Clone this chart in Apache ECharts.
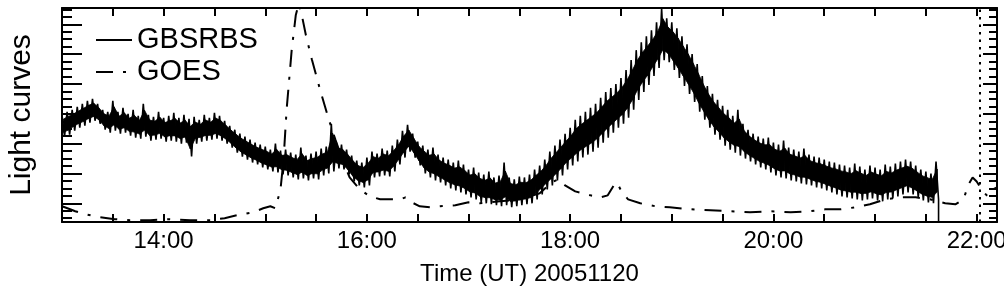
<!DOCTYPE html>
<html><head><meta charset="utf-8">
<script src="https://cdn.jsdelivr.net/npm/echarts@6/dist/echarts.min.js"></script>
<style>html,body{margin:0;padding:0;background:#fff}#c{width:1004px;height:296px}</style>
</head><body><div id="c"></div>
<script>
// GBSRBS: sampled every 0.05 h from 13:00, upper and lower excursions of the noisy trace
const gbsStart = 13.0;
const gbsStep = 0.05;
const gbsHigh = [
89,92,94,97,100,103,105,100,94,92,
103,92,96,90,94,88,100,89,87,92,
86,88,91,86,89,85,87,84,89,86,
91,88,83,78,74,70,67,64,61,59,
57,54,60,53,54,51,49,56,48,50,
52,55,57,80,61,59,54,48,43,41,
46,52,50,55,53,58,64,73,79,70,
62,58,54,56,49,46,44,41,43,39,
34,36,31,29,32,26,28,41,26,24,
27,26,29,34,38,44,52,58,64,70,
76,84,88,92,96,100,106,112,116,120,
126,134,144,154,162,168,174,182,196,186,
182,176,168,160,150,140,128,118,110,104,
98,94,88,94,80,74,70,67,65,66,
61,59,63,56,54,52,55,49,47,46,
44,42,41,39,38,36,40,37,34,38,
36,34,39,37,40,42,44,42,38,34,
32,30,42];
const gbsLow = [
67,69,73,76,78,81,83,80,74,71,
73,70,71,68,66,65,67,63,64,65,
62,63,62,60,61,47,60,62,63,64,
65,63,60,56,51,47,44,41,39,36,
34,32,31,29,28,26,24,25,23,25,
24,28,30,32,35,34,29,22,18,16,
18,26,27,28,27,32,39,46,52,46,
38,30,26,23,21,18,15,13,11,9,
6,4,1,0,-1,-2,-3,-2,-4,-3,
-2,-1,0,4,9,14,18,23,28,34,
38,42,46,49,52,56,61,66,71,76,
80,86,94,104,112,119,128,136,144,142,
134,126,118,110,102,92,84,76,69,64,
58,54,51,48,45,42,39,36,34,31,
28,26,25,23,22,20,19,18,16,15,
13,11,9,7,6,5,4,3,4,5,
3,2,4,5,7,9,11,9,6,3,
1,0,4];
const gbsDropTime = 21.625;
const gbsDropValue = -30;

// GOES (hours UT, relative flux)
const goesTimes = [13.00,13.08,13.13,13.23,13.37,13.52,13.67,13.87,14.06,14.26,14.46,14.60,14.72,14.88,14.98,15.05,15.10,15.15,15.18,15.21,15.26,15.30,15.33,15.36,15.40,15.46,15.54,15.62,15.69,15.76,15.83,15.93,16.03,16.13,16.23,16.33,16.38,16.44,16.52,16.62,16.72,16.87,17.00,17.11,17.31,17.51,17.70,17.82,17.88,17.95,18.05,18.20,18.30,18.37,18.43,18.46,18.51,18.57,18.69,18.84,18.98,19.18,19.38,19.57,19.77,19.97,20.17,20.36,20.51,20.66,20.81,20.95,21.10,21.25,21.40,21.54,21.69,21.79,21.87,21.92,21.96,22.00,22.06,22.11,22.16,22.20];
const goesValues = [-3,-6,-8,-11,-14,-16,-17,-17,-16,-17,-17,-15,-12,-9,-5,-3,-5,14,44,94,154,189,201,189,169,144,114,86,64,44,26,14,7,4,4,4,6,1,-3,-4,-3,-2,1,0,2,4,10,21,24,18,12,8,6,8,18,21,11,4,0,-3,-4,-6,-7,-8,-9,-8,-9,-8,-6,-6,-4,-1,4,6,6,4,0,-1,4,19,26,22,12,7,14,16];

const markerTime = 22.03;
const xMin = 13.0, xMax = 22.2, xTick = 0.5;
const yMin = -18.8, yMax = 196.4;
const seriesNames = ['GBSRBS', 'GOES'];
const xTitle = 'Time (UT) 20051120';
const yTitle = 'Light curves';

// zig-zag trace through the upper/lower excursions
const gbsData = [];
for (let i = 0; i < gbsHigh.length; i++) {
  gbsData.push([gbsStart + i * gbsStep, gbsHigh[i]]);
  gbsData.push([gbsStart + (i + 0.5) * gbsStep, gbsLow[i]]);
}
gbsData.push([gbsDropTime, gbsDropValue]);
// dense core of the noisy band (inner part of each excursion range): [time, top, bottom]
const coreData = gbsHigh.map((h, i) => {
  const w = h - gbsLow[i];
  return [gbsStart + (i + 0.25) * gbsStep, h - 0.2 * w, gbsLow[i] + 0.2 * w];
});
const goesData = goesTimes.map((t, i) => [t, goesValues[i]]);

const sans = "'Liberation Sans', Arial, Helvetica, sans-serif";
const axisCommon = {
  axisLine: { show: true, onZero: false, lineStyle: { color: '#000', width: 2 } },
  splitLine: { show: false }
};
function renderCore(params, api) {
  const i = params.dataIndexInside;
  if (i >= params.dataInsideLength - 1) return null;
  const p1 = api.coord([api.value(0, i), api.value(1, i)]);
  const p2 = api.coord([api.value(0, i + 1), api.value(1, i + 1)]);
  const p3 = api.coord([api.value(0, i + 1), api.value(2, i + 1)]);
  const p4 = api.coord([api.value(0, i), api.value(2, i)]);
  return {
    type: 'polygon',
    shape: { points: [p1, p2, p3, p4] },
    style: { fill: '#000', stroke: '#000', lineWidth: 0.8 }
  };
}
const chart = echarts.init(document.getElementById('c'), null, { renderer: 'canvas' });
chart.setOption({
  animation: false,
  backgroundColor: '#fff',
  grid: { left: 62, right: 7, top: 8, bottom: 74, containLabel: false, outerBoundsMode: 'none' },
  legend: {
    orient: 'vertical', left: 90, top: 20,
    itemWidth: 36, itemHeight: 14, itemGap: 2,
    data: seriesNames,
    itemStyle: { color: 'rgba(0,0,0,0)', borderWidth: 0, opacity: 0 },
    textStyle: { fontFamily: sans, fontSize: 29, color: '#000', lineHeight: 30 }
  },
  xAxis: [
    Object.assign({}, axisCommon, {
      type: 'value', min: xMin, max: xMax, interval: xTick, position: 'bottom',
      axisTick: { show: true, inside: true, length: 8, lineStyle: { color: '#000', width: 2 } },
      axisLabel: {
        color: '#000', fontFamily: sans, fontSize: 24, lineHeight: 26, margin: 6,
        formatter: function (v) { const r = Math.round(v); return (Math.abs(v - r) < 1e-6 && r % 2 === 0) ? r + ':00' : ''; }
      },
      name: xTitle, nameLocation: 'middle', nameGap: 39,
      nameTextStyle: { color: '#000', fontFamily: sans, fontSize: 24, lineHeight: 26 }
    }),
    Object.assign({}, axisCommon, {
      type: 'value', min: xMin, max: xMax, interval: xTick, position: 'top',
      axisTick: { show: true, inside: true, length: 8, lineStyle: { color: '#000', width: 2 } },
      axisLabel: { show: false }
    })
  ],
  yAxis: [
    Object.assign({}, axisCommon, {
      type: 'value', min: yMin, max: yMax, splitNumber: 7, position: 'left',
      axisTick: { show: true, inside: true, length: 20, lineStyle: { color: '#000', width: 2 } },
      minorTick: { show: true, splitNumber: 4, length: 10, lineStyle: { color: '#000', width: 2 } },
      axisLabel: { show: false },
      name: yTitle, nameLocation: 'middle', nameGap: 25, nameRotate: 90,
      nameTextStyle: { color: '#000', fontFamily: sans, fontSize: 30, lineHeight: 30 }
    }),
    Object.assign({}, axisCommon, {
      type: 'value', min: yMin, max: yMax, splitNumber: 7, position: 'right',
      axisTick: { show: true, inside: true, length: 14, lineStyle: { color: '#000', width: 2 } },
      minorTick: { show: true, splitNumber: 4, length: 8, lineStyle: { color: '#000', width: 2 } },
      axisLabel: { show: false }
    })
  ],
  series: [
    {
      name: 'GBSRBS core', type: 'custom', data: coreData, renderItem: renderCore,
      encode: { x: 0, y: [1, 2] }, clip: true, silent: true, z: 1
    },
    {
      name: seriesNames[0], type: 'line', data: gbsData, symbol: 'none', showSymbol: false, sampling: null,
      lineStyle: { color: '#000', width: 1.6 }, itemStyle: { color: '#000' }, z: 3
    },
    {
      name: seriesNames[1], type: 'line', data: goesData, symbol: 'none', showSymbol: false,
      lineStyle: { color: '#000', width: 2, type: [17, 10, 3, 10] }, itemStyle: { color: '#000' }, z: 2,
      markLine: {
        silent: true, symbol: 'none', label: { show: false },
        lineStyle: { color: '#000', width: 2, type: [2.5, 5] },
        data: [{ xAxis: markerTime }]
      }
    }
  ]
});
</script></body></html>
